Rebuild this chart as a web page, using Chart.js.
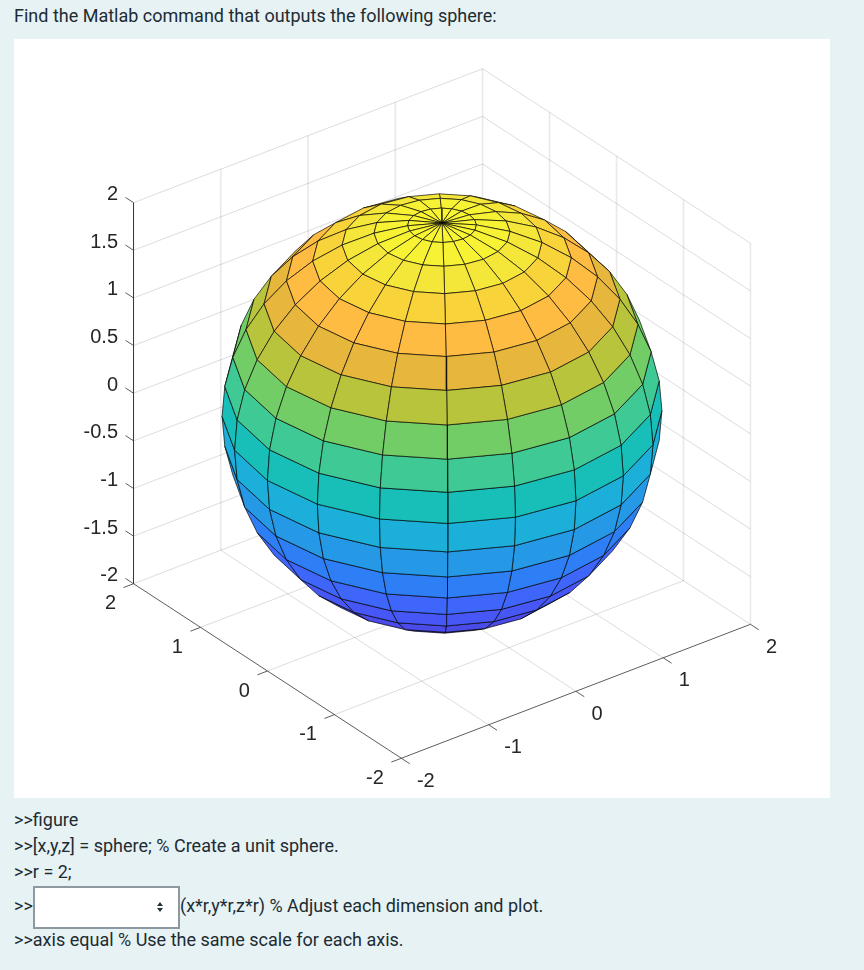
<!DOCTYPE html>
<html>
<head>
<meta charset="utf-8">
<title>Sphere</title>
<script src="https://cdn.jsdelivr.net/npm/chart.js@4"></script>
<style>
    html, body { margin: 0; padding: 0; }
    body {
        width: 864px; height: 970px; position: relative; overflow: hidden;
        background: #e6f2f4; color: #1d2b32;
        font-family: Roboto, sans-serif; font-size: 18px;
    }
    .line { position: absolute; left: 14px; white-space: nowrap; line-height: 24px; }
    #panel { position: absolute; left: 14px; top: 39px; width: 816px; height: 759px; background: #fff; }
    #panel canvas { display: block; }
    #pick {
        position: absolute; left: 33px; top: 886px; width: 143px; height: 39px;
        background: #fff; border: 2px solid #8d98a1;
    }
    #pick i { position: absolute; left: 122px; width: 0; height: 0; border-left: 3.5px solid transparent; border-right: 3.5px solid transparent; }
    #pick .up { top: 14px; border-bottom: 4px solid #26323a; }
    #pick .down { top: 20px; border-top: 4px solid #26323a; }
</style>
</head>
<body>
<div class="line" style="top:4px">Find the Matlab command that outputs the following sphere:</div>
<div id="panel"><canvas id="sphereChart" width="816" height="759"></canvas></div>
<div class="line" style="top:808px">&gt;&gt;figure</div>
<div class="line" style="top:834px">&gt;&gt;[x,y,z] = sphere; % Create a unit sphere.</div>
<div class="line" style="top:860px">&gt;&gt;r = 2;</div>
<div class="line" style="top:894px">&gt;&gt;</div>
<div id="pick"><i class="up"></i><i class="down"></i></div>
<div class="line" style="top:894px;left:180px;letter-spacing:-0.02px">(x*r,y*r,z*r) % Adjust each dimension and plot.</div>
<div class="line" style="top:928px">&gt;&gt;axis equal % Use the same scale for each axis.</div>
<script>
// --- A. DATA ---

const radius = 2;
const latitudes = [-90, -81, -72, -63, -54, -45, -36, -27, -18, -9, 0, 9, 18, 27, 36, 45, 54, 63, 72, 81, 90];
const longitudes = [-180, -162, -144, -126, -108, -90, -72, -54, -36, -18, 0, 18, 36, 54, 72, 90, 108, 126, 144, 162, 180];
// one colour per latitude band, bottom to top
const bandColors = [
    '#483ad4', '#4a3ed9', '#4a40dd', '#4a44e2', '#4a4be8',
    '#4757f5', '#3f66fa', '#2e7ff5', '#2598e6', '#1bafd9',
    '#18bfb8', '#3fc995', '#73cd66', '#b7c43c', '#e6b73c',
    '#ffbc43', '#f9d33a', '#f5e63a', '#f7f233', '#f9f532'
];
const xTicks = [-2, -1, 0, 1, 2];
const yTicks = [-2, -1, 0, 1, 2];
const zTicks = [-2, -1.5, -1, -0.5, 0, 0.5, 1, 1.5, 2];
const lo = -2;
const hi = 2;

// --- B. VIEW (Matlab default az -37.5, el 30) ---

const rad = Math.PI / 180;
const sinAz = Math.sin(37.5 * rad), cosAz = Math.cos(37.5 * rad);
const sinEl = Math.sin(30 * rad), cosEl = Math.cos(30 * rad);

function project(x, y, z) {
    return {
        x: x * cosAz - y * sinAz,
        y: z * cosEl + (x * sinAz + y * cosAz) * sinEl
    };
}

function depth(x, y, z) {
    return z * sinEl - (x * sinAz + y * cosAz) * cosEl;
}

function spherePoint(lat, lon) {
    return [
        radius * Math.cos(lat * rad) * Math.cos(lon * rad),
        radius * Math.cos(lat * rad) * Math.sin(lon * rad),
        radius * Math.sin(lat * rad)
    ];
}

// --- C. DATASETS ---

function lineSet(points, color, width) {
    return {
        data: points.map(p => project(p[0], p[1], p[2])),
        borderColor: color,
        borderWidth: width,
        showLine: true,
        pointRadius: 0,
        fill: false
    };
}

const gridColor = 'rgba(38,38,38,0.16)';
const uprightColor = 'rgba(38,38,38,0.10)'; // verticals land on whole pixels, keep them faint
const axisColor = '#333333';
const backToFront = [];

// back walls
zTicks.forEach(z => {
    if (z > lo) backToFront.push(lineSet([[lo, hi, z], [hi, hi, z], [hi, lo, z]], gridColor, 1));
});
xTicks.forEach(x => {
    if (x > lo) backToFront.push(lineSet([[x, hi, hi], [x, hi, lo]], uprightColor, 1.6));
});
yTicks.forEach(y => {
    if (y < hi) backToFront.push(lineSet([[hi, y, hi], [hi, y, lo]], uprightColor, 1.6));
});

// floor
xTicks.forEach(x => {
    if (x > lo) backToFront.push(lineSet([[x, hi, lo], [x, lo, lo]], gridColor, 1));
});
yTicks.forEach(y => {
    if (y > lo) backToFront.push(lineSet([[hi, y, lo], [lo, y, lo]], gridColor, 1));
});

// axis lines and their tick marks
backToFront.push(lineSet([[lo, hi, lo], [lo, hi, hi]], axisColor, 1));
backToFront.push(lineSet([[lo, hi, lo], [lo, lo, lo], [hi, lo, lo]], axisColor, 0.8));
zTicks.forEach(z => {
    backToFront.push(lineSet([[lo, hi, z], [lo, hi + 0.12, z]], axisColor, 0.8));
});
yTicks.forEach(y => {
    backToFront.push(lineSet([[lo, y, lo], [lo - 0.115, y, lo]], axisColor, 0.8));
});
xTicks.forEach(x => {
    backToFront.push(lineSet([[x, lo, lo], [x, lo - 0.125, lo]], axisColor, 0.8));
});

// sphere faces, only those turned to the viewer, farthest first
const faces = [];
bandColors.forEach((color, j) => {
    for (let i = 0; i < longitudes.length - 1; i++) {
        const corners = [
            spherePoint(latitudes[j], longitudes[i]),
            spherePoint(latitudes[j], longitudes[i + 1]),
            spherePoint(latitudes[j + 1], longitudes[i + 1]),
            spherePoint(latitudes[j + 1], longitudes[i])
        ];
        const mid = [0, 1, 2].map(k => corners.reduce((sum, c) => sum + c[k], 0) / 4);
        const d = depth(mid[0], mid[1], mid[2]);
        if (d > 0) faces.push({ corners, color, d });
    }
});
faces.sort((a, b) => a.d - b.d);
faces.forEach(face => {
    const set = lineSet(face.corners.concat([face.corners[0]]), 'rgba(0,0,0,0.85)', 0.8);
    set.fill = 'shape';
    set.backgroundColor = face.color;
    backToFront.push(set);
});

// --- D. TICK LABELS ---

const tickLabels = {
    id: 'tickLabels',
    afterDatasetsDraw(chart) {
        const { ctx, scales } = chart;
        const put = (text, p, dx, dy, align) => {
            ctx.textAlign = align;
            ctx.fillText(text, scales.x.getPixelForValue(p.x) + dx, scales.y.getPixelForValue(p.y) + dy);
        };
        ctx.save();
        ctx.font = '20px "Liberation Sans"';
        ctx.fillStyle = '#262626';
        ctx.textBaseline = 'middle';
        zTicks.forEach(z => put(String(z), project(lo, hi, z), -15.5, -8, 'right'));
        yTicks.forEach(y => put(String(y), project(lo, y, lo), -17.5, 20, 'right'));
        xTicks.forEach(x => put(String(x), project(x, lo, lo), 15.5, 23, 'left'));
        ctx.restore();
    }
};

// --- E. CHART ---

new Chart(document.getElementById('sphereChart').getContext('2d'), {
    type: 'scatter',
    data: { datasets: backToFront.reverse() }, // Chart.js paints the first dataset last
    plugins: [tickLabels],
    options: {
        responsive: false,
        animation: false,
        layout: { padding: 0 },
        elements: { line: { tension: 0 } },
        plugins: { legend: { display: false }, tooltip: { enabled: false } },
        scales: {
            x: { type: 'linear', display: false, min: -3.8909, max: 3.5273 },
            y: { type: 'linear', display: false, min: -3.4955, max: 3.4045 }
        }
    }
});
</script>
</body>
</html>
